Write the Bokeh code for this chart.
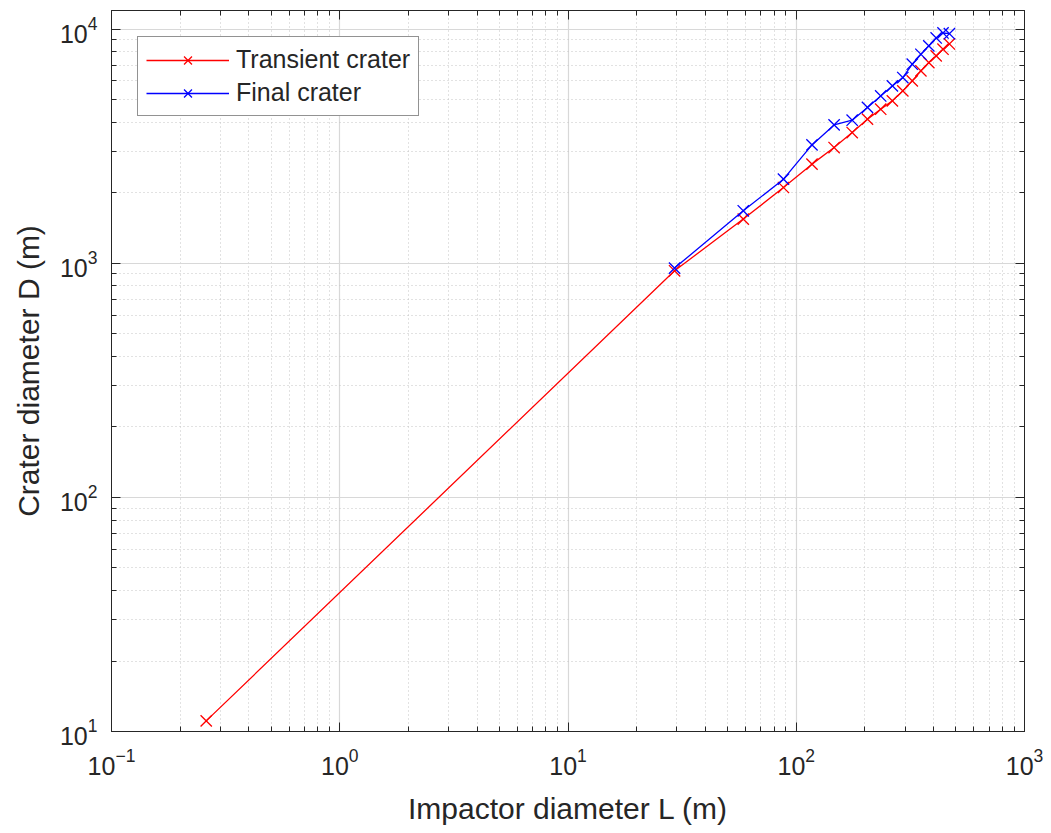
from bokeh.plotting import figure
from bokeh.models import Range1d, LogAxis, FixedTicker
from bokeh.embed import file_html
from bokeh.resources import INLINE

# Impactor diameter L (m) and crater diameters D (m)
transient_L = [0.26, 29.3, 58.6, 87.9, 117.2, 146.5, 175.8, 205.1, 234.4,
               263.7, 293.0, 322.3, 351.6, 380.9, 410.2, 439.5, 468.8]
transient_D = [11.1, 928, 1543, 2105, 2649, 3118, 3613, 4123, 4546,
               4934, 5445, 6004, 6625, 7190, 7677, 8200, 8637]

final_L = [29.3, 58.6, 87.9, 117.2, 146.5, 175.8, 205.1, 234.4,
           263.7, 293.0, 322.3, 351.6, 380.9, 410.2, 439.5, 468.8]
final_D = [953, 1674, 2285, 3200, 3896, 4080, 4627, 5180,
           5717, 6206, 7076, 7804, 8472, 9160, 9620, 9550]

# Decade ticks
x_tick_vals = [0.1, 1, 10, 100, 1000]
y_tick_vals = [10, 100, 1000, 10000]

X_MIN, X_MAX = 0.1, 1000
Y_MIN, Y_MAX = 10, 12000

FONT = "Liberation Sans"
INK = "#262626"

p = figure(width=1051, height=833, x_axis_type="log", y_axis_type="log",
           x_range=Range1d(X_MIN, X_MAX), y_range=Range1d(Y_MIN, Y_MAX),
           output_backend="svg", toolbar_location=None,
           min_border_left=111, min_border_right=27,
           min_border_top=10, min_border_bottom=102)
p.background_fill_color = "white"
p.border_fill_color = "white"
p.outline_line_color = INK

bottom_axis = p.below[0]
left_axis = p.left[0]

x_minor = [m * 10.0 ** e for e in range(-1, 3) for m in range(2, 10)]
y_minor = [m * 10.0 ** e for e in range(1, 4) for m in range(2, 10)]
x_ticker = FixedTicker(ticks=x_tick_vals, minor_ticks=x_minor)
y_ticker = FixedTicker(ticks=y_tick_vals, minor_ticks=y_minor)

top_axis = LogAxis()
right_axis = LogAxis()
p.add_layout(top_axis, "above")
p.add_layout(right_axis, "right")

for ax, tk in ((bottom_axis, x_ticker), (top_axis, x_ticker),
               (left_axis, y_ticker), (right_axis, y_ticker)):
    ax.ticker = tk
    ax.axis_line_color = INK
    ax.axis_line_width = 1
    ax.major_tick_line_color = INK
    ax.minor_tick_line_color = INK
    ax.major_tick_in = 9
    ax.major_tick_out = 0
    ax.minor_tick_in = 5
    ax.minor_tick_out = 0
    ax.major_label_text_font = FONT
    ax.major_label_text_font_size = "25px"
    ax.major_label_text_color = INK

for ax in (top_axis, right_axis):
    ax.major_label_text_alpha = 0
    ax.major_label_text_font_size = "0px"
    ax.major_label_standoff = 0

bottom_axis.major_label_standoff = 16
left_axis.major_label_standoff = 14

bottom_axis.axis_label = "Impactor diameter L (m)"
left_axis.axis_label = "Crater diameter D (m)"
for ax, standoff in ((bottom_axis, 14), (left_axis, 12)):
    ax.axis_label_text_font = FONT
    ax.axis_label_text_font_size = "30px"
    ax.axis_label_text_font_style = "normal"
    ax.axis_label_text_color = INK
    ax.axis_label_standoff = standoff

p.xgrid.ticker = x_ticker
p.ygrid.ticker = y_ticker
for g in (p.xgrid, p.ygrid):
    g.grid_line_color = "#d8d8d8"
    g.grid_line_width = 1.2
    g.minor_grid_line_color = "#c4c4c4"
    g.minor_grid_line_dash = "1 3"
    g.minor_grid_line_width = 1

p.line(transient_L, transient_D, line_color="#ff0000", line_width=1.3,
       legend_label="Transient crater")
p.scatter(transient_L, transient_D, marker="x", size=16, line_color="#ff0000",
          line_width=1.3, legend_label="Transient crater")
p.line(final_L, final_D, line_color="#0000ff", line_width=1.3,
       legend_label="Final crater")
p.scatter(final_L, final_D, marker="x", size=16, line_color="#0000ff",
          line_width=1.3, legend_label="Final crater")

lg = p.legend[0]
lg.location = "top_left"
lg.margin = 26
lg.padding = 8
lg.spacing = 4
lg.glyph_width = 83
lg.glyph_height = 28
lg.label_height = 28
lg.label_standoff = 7
lg.label_text_font = FONT
lg.label_text_font_size = "25px"
lg.label_text_color = INK
lg.border_line_color = INK
lg.border_line_width = 1
lg.background_fill_color = "white"
lg.background_fill_alpha = 1.0

open("out.html", "w").write(file_html(p, INLINE))
